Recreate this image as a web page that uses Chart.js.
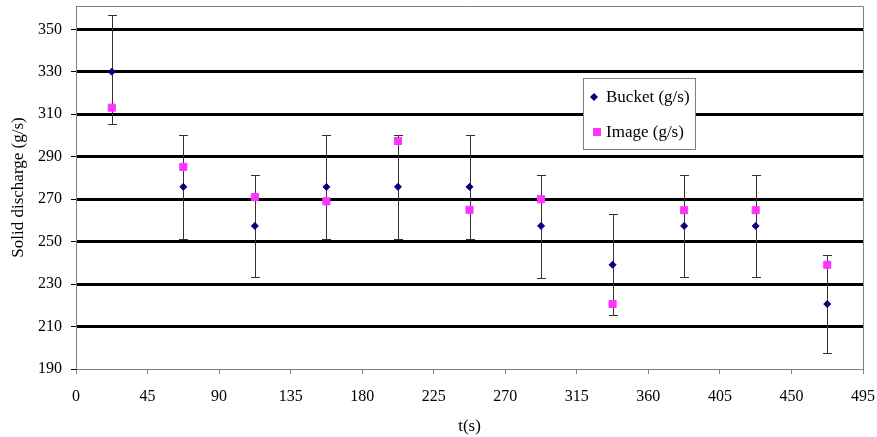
<!DOCTYPE html>
<html>
<head>
<meta charset="utf-8">
<title>Solid discharge</title>
<script src="https://cdn.jsdelivr.net/npm/chart.js@4"></script>
<style>
  html, body { margin: 0; padding: 0; background: #fff; }
  #wrap { width: 877px; height: 437px; }
</style>
</head>
<body>
<div id="wrap"><canvas id="chart" width="877" height="437"></canvas></div>
<script>
// time of each measurement (s)
const xValues = [22.5, 67.5, 112.5, 157.5, 202.5, 247.5, 292.5, 337.5, 382.5, 427.5, 472.5];
// bucket measurement and its error range (g/s)
const bucketValues = [330, 275.8, 257.4, 275.8, 275.8, 275.8, 257.4, 239.1, 257.4, 257.4, 220.6];
const bucketUpper = [356.7, 300.1, 281.4, 300.1, 300.2, 300.2, 281.3, 262.8, 281.3, 281.3, 243.8];
const bucketLower = [305.3, 251.3, 233.3, 251.3, 251.3, 251.3, 233.1, 215.4, 233.3, 233.3, 197.5];
// image-based measurement (g/s)
const imageValues = [313.1, 285.2, 271, 269, 297.4, 265, 270, 220.6, 264.8, 264.8, 239.1];

const xTicks = [0, 45, 90, 135, 180, 225, 270, 315, 360, 405, 450, 495];
const yTicks = [190, 210, 230, 250, 270, 290, 310, 330, 350];

const FONT = '"Liberation Serif", "Times New Roman", serif';
const GRAY = '#808080';

/**
 * Draws vertical error bars with caps on the bucket series.
 */
const errorBars = {
  id: 'errorBars',
  beforeDatasetsDraw(chart) {
    const { ctx, scales: { x, y } } = chart;
    ctx.save();
    ctx.strokeStyle = '#333';
    ctx.lineWidth = 1;
    xValues.forEach((t, i) => {
      const px = Math.round(x.getPixelForValue(t)) + 0.5;
      const top = Math.round(y.getPixelForValue(bucketUpper[i])) + 0.5;
      const bot = Math.round(y.getPixelForValue(bucketLower[i])) + 0.5;
      ctx.beginPath();
      ctx.moveTo(px, top);
      ctx.lineTo(px, bot);
      ctx.moveTo(px - 4.5, top);
      ctx.lineTo(px + 4.5, top);
      ctx.moveTo(px - 4.5, bot);
      ctx.lineTo(px + 4.5, bot);
      ctx.stroke();
    });
    ctx.restore();
  }
};

/**
 * Gray frame round the plot area (top and right edges).
 */
const frame = {
  id: 'frame',
  beforeDatasetsDraw(chart) {
    const { ctx, chartArea: a } = chart;
    ctx.save();
    ctx.strokeStyle = GRAY;
    ctx.lineWidth = 1;
    ctx.beginPath();
    ctx.moveTo(a.left, a.top + 0.5);
    ctx.lineTo(a.right + 0.5, a.top + 0.5);
    ctx.lineTo(a.right + 0.5, a.bottom);
    ctx.stroke();
    ctx.restore();
  }
};

/**
 * Boxed legend inside the plot, like the spreadsheet original.
 */
const boxLegend = {
  id: 'boxLegend',
  afterDraw(chart) {
    const { ctx } = chart;
    const bx = 583.5, by = 78.5, bw = 112, bh = 71;
    ctx.save();
    ctx.fillStyle = '#fff';
    ctx.fillRect(bx, by, bw, bh);
    ctx.strokeStyle = GRAY;
    ctx.lineWidth = 1;
    ctx.strokeRect(bx, by, bw, bh);
    ctx.font = '17px ' + FONT;
    ctx.textBaseline = 'middle';
    ctx.fillStyle = '#000';
    chart.data.datasets.forEach((ds, i) => {
      const cy = 97 + i * 35;
      ctx.save();
      ctx.fillStyle = ds.backgroundColor;
      ctx.beginPath();
      if (ds.pointStyle === 'rectRot') {
        ctx.moveTo(594, cy - 4);
        ctx.lineTo(598, cy);
        ctx.lineTo(594, cy + 4);
        ctx.lineTo(590, cy);
        ctx.closePath();
      } else {
        ctx.rect(593, cy - 4, 8, 8);
      }
      ctx.fill();
      ctx.restore();
      ctx.fillText(ds.label, 606, cy + 1);
    });
    ctx.restore();
  }
};

const ctx = document.getElementById('chart').getContext('2d');

new Chart(ctx, {
  type: 'scatter',
  data: {
    datasets: [
      {
        label: 'Bucket (g/s)',
        data: xValues.map((t, i) => ({ x: t, y: bucketValues[i] })),
        pointStyle: 'rectRot',
        pointRadius: 3.5,
        borderWidth: 1,
        backgroundColor: '#000080',
        borderColor: '#000080'
      },
      {
        label: 'Image (g/s)',
        data: xValues.map((t, i) => ({ x: t, y: imageValues[i] })),
        pointStyle: 'rect',
        pointRadius: 5,
        borderWidth: 1,
        backgroundColor: '#ff33ff',
        borderColor: '#ff33ff'
      }
    ]
  },
  options: {
    responsive: false,
    animation: false,
    layout: { padding: { top: 6, right: 14, left: 0, bottom: 0 } },
    plugins: {
      legend: { display: false },
      tooltip: { enabled: false }
    },
    scales: {
      x: {
        type: 'linear',
        min: 0,
        max: 495,
        afterBuildTicks(scale) { scale.ticks = xTicks.map(v => ({ value: v })); },
        afterFit(scale) {
          scale.height = 68;
          scale.paddingLeft = 0;
          scale.paddingRight = 0;
        },
        border: { color: GRAY, width: 1 },
        grid: { drawOnChartArea: false, tickLength: 5, color: GRAY },
        ticks: { color: '#000', font: { family: FONT, size: 16 }, padding: 13, maxRotation: 0 },
        title: { display: true, text: 't(s)', color: '#000', font: { family: FONT, size: 17 }, padding: { top: 0, bottom: 0 } }
      },
      y: {
        min: 190,
        max: 361,
        afterBuildTicks(scale) { scale.ticks = yTicks.map(v => ({ value: v })); },
        afterFit(scale) {
          scale.width = 76;
          scale.paddingTop = 0;
          scale.paddingBottom = 0;
        },
        border: { color: GRAY, width: 1 },
        grid: {
          color: c => (c.tick && c.tick.value === 190 ? 'rgba(0,0,0,0)' : '#000'),
          lineWidth: 3,
          tickLength: 5,
          tickColor: '#000',
          tickWidth: 1
        },
        ticks: { color: '#000', font: { family: FONT, size: 16 }, padding: 9 },
        title: { display: true, text: 'Solid discharge (g/s)', color: '#000', font: { family: FONT, size: 17 }, padding: { top: 8, bottom: 0 } }
      }
    }
  },
  plugins: [frame, errorBars, boxLegend]
});
</script>
</body>
</html>
